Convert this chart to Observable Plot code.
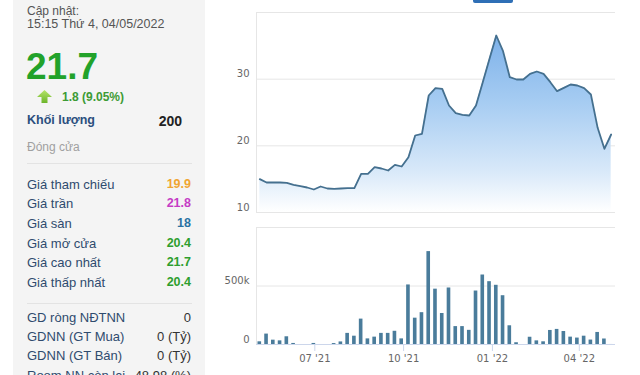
<!DOCTYPE html>
<html><head><meta charset="utf-8">
<script src="https://cdn.jsdelivr.net/npm/d3@7"></script>
<script src="https://cdn.jsdelivr.net/npm/@observablehq/plot@0.6"></script>
<style>
html,body{margin:0;padding:0;background:#fff;}
body{width:640px;height:375px;overflow:hidden;position:relative;font-family:"Liberation Sans",Arial,sans-serif;}
.abs{position:absolute;white-space:nowrap;}
#panel{position:absolute;left:13px;top:0;width:192px;height:375px;background:#f4f4f4;}
.sep{position:absolute;left:27px;width:165px;height:1px;background:#e3e3e3;}
.lbl{font-size:13px;line-height:13px;color:#2f4b6e;left:27px;}
.val{font-size:12.5px;line-height:13px;font-weight:bold;right:449px;text-align:right;}
.val2{font-size:13px;line-height:13px;right:449px;text-align:right;color:#333;}
#pricechart,#volchart{position:absolute;left:206px;}
#pricechart{top:0;}
#volchart{top:222px;}
</style></head>
<body>
<div id="panel"></div>
<div class="abs" style="left:473px;top:0;width:40px;height:3px;background:#2f6fb6;border-radius:0 0 2px 2px;"></div>
<div class="abs" style="left:27px;top:4.5px;font-size:12px;line-height:12px;color:#555;">Cập nhật:</div>
<div class="abs" style="left:27px;top:17.5px;font-size:12.5px;line-height:12.5px;color:#555;">15:15 Thứ 4, 04/05/2022</div>
<div class="abs" style="left:26px;top:47.5px;font-size:37px;line-height:37px;font-weight:bold;color:#22a22a;">21.7</div>
<svg class="abs" style="left:37px;top:90px;" width="15" height="13" viewBox="0 0 15 13">
  <defs><linearGradient id="ag" x1="0" y1="0" x2="0" y2="1"><stop offset="0" stop-color="#b6e46a"/><stop offset="1" stop-color="#6cb52a"/></linearGradient></defs>
  <polygon points="7.5,0 15,7 10.5,7 10.5,13 4.5,13 4.5,7 0,7" fill="url(#ag)"/>
</svg>
<div class="abs" style="left:62px;top:91px;font-size:12px;line-height:12px;font-weight:bold;color:#3d9b35;">1.8 (9.05%)</div>
<div class="abs" style="left:27px;top:114px;font-size:12.5px;line-height:12.5px;font-weight:bold;color:#2b4f7e;">Khối lượng</div>
<div class="abs" style="right:458px;top:113.5px;font-size:14px;line-height:14px;font-weight:bold;color:#222;">200</div>
<div class="abs" style="left:27px;top:141px;font-size:12px;line-height:12px;color:#a0a0a0;">Đóng cửa</div>
<div class="sep" style="top:163px;"></div>
<div class="sep" style="top:303px;"></div>
<div id="rows"></div>
<div id="pricechart"></div>
<div id="volchart"></div>
<script>
// ---- Left panel info ----
const priceLabels = ["Giá tham chiếu", "Giá trần", "Giá sàn", "Giá mở cửa", "Giá cao nhất", "Giá thấp nhất"];
const priceValues = ["19.9", "21.8", "18", "20.4", "21.7", "20.4"];
const priceColors = ["#f0a532", "#c53cc5", "#2a72a3", "#2e9e2e", "#2e9e2e", "#2e9e2e"];
const foreignLabels = ["GD ròng NĐTNN", "GDNN (GT Mua)", "GDNN (GT Bán)", "Room NN còn lại"];
const foreignValues = ["0", "0 (Tỷ)", "0 (Tỷ)", "48.98 (%)"];

// ---- Chart data (weekly, Wednesdays, 05/05/2021 .. 04/05/2022) ----
const firstWeek = "2021-05-05";
const lastWeek = "2022-05-04";
const closePrice = [15.0, 14.5, 14.5, 14.5, 14.45, 14.15, 13.95, 13.75, 13.45, 13.9, 13.6, 13.55, 13.6, 13.65, 13.65,
  15.8, 15.8, 16.8, 16.6, 16.3, 17.15, 16.9, 18.3, 21.55, 21.8, 27.55, 28.65, 28.55, 26.05, 24.9, 24.65, 24.55,
  26.05, 29.55, 33.05, 36.55, 34.2, 30.3, 29.95, 29.95, 30.8, 31.15, 30.8, 29.55, 28.2, 28.7, 29.2, 29.05, 28.65,
  27.7, 22.7, 19.55, 21.7];
const volume = [23000, 89000, 37000, 31000, 66000, 9000, 0, 0, 9000, 0, 0, 8000, 22000, 95000, 71000, 217000,
  48000, 63000, 95000, 95000, 113000, 48000, 509000, 225000, 272000, 794000, 473000, 265000, 483000, 153000,
  153000, 121000, 457000, 594000, 537000, 506000, 417000, 160000, 15000, 0, 62000, 31000, 23000, 120000,
  129000, 111000, 63000, 55000, 71000, 38000, 103000, 47000, 200];
const priceTicks = [10, 20, 30];
const volumeTicks = [0, 500000];
const monthTicks = ["2021-07-01", "2021-10-01", "2022-01-01", "2022-04-01"];

// rows
const rowsEl = document.getElementById("rows");
priceLabels.forEach((l, i) => {
  const top = 177.5 + 19.67 * i;
  rowsEl.insertAdjacentHTML("beforeend",
    `<div class="abs lbl" style="top:${top}px">${l}</div><div class="abs val" style="top:${top}px;color:${priceColors[i]}">${priceValues[i]}</div>`);
});
foreignLabels.forEach((l, i) => {
  const top = 310.8 + 19.33 * i;
  rowsEl.insertAdjacentHTML("beforeend",
    `<div class="abs lbl" style="top:${top}px">${l}</div><div class="abs val2" style="top:${top}px">${foreignValues[i]}</div>`);
});

const start = new Date(firstWeek + "T00:00:00Z");
const end = new Date(lastWeek + "T00:00:00Z");
const weeks = d3.utcDay.range(start, d3.utcDay.offset(end, 1), 7);
const data = weeks.map((date, i) => ({date, price: closePrice[i], volume: volume[i]}));
const xDomain = [new Date("2021-05-01T14:00:00Z"), new Date("2022-05-08T12:00:00Z")];
const tickDates = monthTicks.map(s => new Date(s + "T00:00:00Z"));

const axisStyle = {fontFamily: "'DejaVu Sans', Verdana, sans-serif", fontSize: "10px", background: "transparent", color: "#666", overflow: "visible"};

const priceChart = Plot.plot({
  width: 434, height: 222,
  marginLeft: 50, marginRight: 25, marginTop: 12, marginBottom: 10,
  style: axisStyle,
  x: {type: "utc", domain: xDomain, axis: null},
  y: {domain: [10, 40], axis: null},
  marks: [
    Plot.ruleY([...priceTicks, 40], {stroke: "#e6e6e6"}),
    Plot.ruleX([xDomain[0]], {stroke: "#e6e6e6"}),
    Plot.areaY(data, {x: "date", y1: 10, y2: "price", fill: "url(#priceGrad)"}),
    Plot.lineY(data, {x: "date", y: "price", stroke: "#45708f", strokeWidth: 1.8}),
    Plot.axisY(priceTicks, {anchor: "left", tickSize: 0, tickPadding: 7, dy: -5, fill: "#666", label: null})
  ]
});
const defs = d3.select(priceChart).insert("defs", ":first-child");
const grad = defs.append("linearGradient").attr("id", "priceGrad")
  .attr("gradientUnits", "userSpaceOnUse").attr("x1", 0).attr("y1", 12).attr("x2", 0).attr("y2", 212);
[[0, "#6fa8e6"], [0.45, "#a6ccf2"], [0.8, "#d9e9f9"], [1, "#ffffff"]].forEach(([o, c]) =>
  grad.append("stop").attr("offset", o).attr("stop-color", c));
document.getElementById("pricechart").appendChild(priceChart);

const volChart = Plot.plot({
  width: 434, height: 153,
  marginLeft: 50, marginRight: 25, marginTop: 5, marginBottom: 31,
  style: axisStyle,
  x: {type: "utc", domain: xDomain, axis: null},
  y: {domain: [0, 1000000], axis: null},
  marks: [
    Plot.ruleY([500000, 1000000], {stroke: "#e6e6e6"}),
    Plot.ruleX([xDomain[0]], {stroke: "#e6e6e6"}),
    Plot.rectY(data, {x1: d => d3.utcHour.offset(d.date, -45), x2: d => d3.utcHour.offset(d.date, 45), y: "volume", fill: "#4a7c9b"}),
    Plot.ruleY([0], {stroke: "#ccd6eb"}),
    Plot.axisY(volumeTicks, {anchor: "left", tickSize: 0, tickPadding: 7, dy: -5, fill: "#666", label: null,
      tickFormat: d => d === 0 ? "0" : d / 1000 + "k"}),
    Plot.axisX(tickDates, {anchor: "bottom", tickSize: 7, tickPadding: 3, stroke: "#ccd6eb", fill: "#666", label: null,
      tickFormat: d3.utcFormat("%m '%y")})
  ]
});
document.getElementById("volchart").appendChild(volChart);
</script>
</body></html>
